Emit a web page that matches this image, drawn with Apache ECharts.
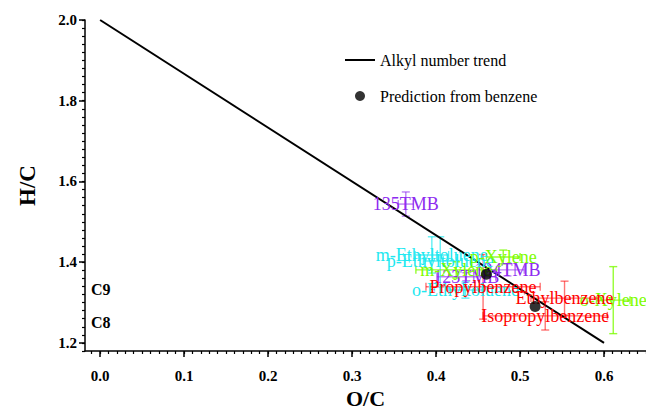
<!DOCTYPE html>
<html><head><meta charset="utf-8">
<script src="https://cdn.jsdelivr.net/npm/echarts@6/dist/echarts.min.js"></script>
<style>html,body{margin:0;padding:0;background:#fff}#c{width:646px;height:410px}</style>
</head><body><div id="c"></div>
<script>
// ---- data ----
var ocTickLabels = [0.0, 0.1, 0.2, 0.3, 0.4, 0.5, 0.6];
var hcTickLabels = [1.2, 1.4, 1.6, 1.8, 2.0];

var trendOC = [0.0, 0.6];
var trendHC = [2.0, 1.2];

var predOC = [0.460, 0.518];
var predHC = [1.370, 1.290];

var tmbNames = ['135TMB', '124TMB', '123TMB'];
var tmbOC = [0.364, 0.485, 0.436];
var tmbHC = [1.544, 1.381, 1.364];
var tmbXerr = [0.009, 0.020, 0.035];
var tmbYerr = [0.030, 0.015, 0.010];

var etNames = ['m-Ethyltoluene', 'p-Ethyltoluene', 'o-Ethyltoluene'];
var etOC = [0.395, 0.405, 0.435];
var etHC = [1.418, 1.403, 1.331];
var etXerr = [0.020, 0.020, 0.020];
var etYerr = [0.045, 0.060, 0.020];

var xylNames = ['m-Xylene', 'p-Xylene', 'o-Xylene'];
var xylOC = [0.424, 0.480, 0.611];
var xylHC = [1.381, 1.413, 1.306];
var xylXerr = [0.048, 0.020, 0.020];
var xylYerr = [0.020, 0.017, 0.083];

var benzNames = ['Propylbenzene', 'Ethylbenzene', 'Isopropylbenzene'];
var benzOC = [0.456, 0.553, 0.530];
var benzHC = [1.339, 1.311, 1.267];
var benzXerr = [0.068, 0.040, 0.074];
var benzYerr = [0.080, 0.042, 0.035];

var carbonNames = ['C9', 'C8'];
var carbonOC = [-0.011, -0.011];
var carbonHC = [1.333, 1.250];

// ---- build ----
var groups = [
  {names: tmbNames, oc: tmbOC, hc: tmbHC, xe: tmbXerr, ye: tmbYerr, color: '#8e2bf0', bar: 'rgba(142,43,240,0.6)'},
  {names: etNames, oc: etOC, hc: etHC, xe: etXerr, ye: etYerr, color: '#1ee8f0', bar: 'rgba(30,232,240,0.7)'},
  {names: xylNames, oc: xylOC, hc: xylHC, xe: xylXerr, ye: xylYerr, color: '#7cfc00', bar: 'rgba(124,252,0,0.8)'},
  {names: benzNames, oc: benzOC, hc: benzHC, xe: benzXerr, ye: benzYerr, color: '#ff0000', bar: 'rgba(255,0,0,0.55)'}
];

var minorX = [], minorY = [];
for (var i = -1; i <= 65; i++) minorX.push(+(i * 0.01).toFixed(2));
for (var j = 59; j <= 100; j++) minorY.push(+(j * 0.02).toFixed(2));
minorX = minorX.filter(function (v) { return v >= -0.018 && v <= 0.65; });

function errSeries(g) {
  var data = g.oc.map(function (v, k) { return [v, g.hc[k], g.xe[k], g.ye[k]]; });
  return {
    type: 'custom', z: 2, silent: true,
    data: data,
    encode: {x: 0, y: 1},
    renderItem: function (params, api) {
      var x = api.value(0), y = api.value(1), xe = api.value(2), ye = api.value(3);
      var c = api.coord([x, y]);
      var l = api.coord([x - xe, y]), r = api.coord([x + xe, y]);
      var t = api.coord([x, y + ye]), b = api.coord([x, y - ye]);
      var cap = 4;
      var st = {stroke: g.bar, lineWidth: 1.4};
      return {type: 'group', children: [
        {type: 'line', shape: {x1: l[0], y1: c[1], x2: r[0], y2: c[1]}, style: st},
        {type: 'line', shape: {x1: l[0], y1: c[1] - cap, x2: l[0], y2: c[1] + cap}, style: st},
        {type: 'line', shape: {x1: r[0], y1: c[1] - cap, x2: r[0], y2: c[1] + cap}, style: st},
        {type: 'line', shape: {x1: c[0], y1: t[1], x2: c[0], y2: b[1]}, style: st},
        {type: 'line', shape: {x1: c[0] - cap, y1: t[1], x2: c[0] + cap, y2: t[1]}, style: st},
        {type: 'line', shape: {x1: c[0] - cap, y1: b[1], x2: c[0] + cap, y2: b[1]}, style: st}
      ]};
    }
  };
}

var serif = 'Liberation Serif';

function labelSeries(names, oc, hc, color, size, weight, align) {
  var data = oc.map(function (v, k) { return [v, hc[k], k]; });
  return {
    type: 'custom', z: 4, silent: true,
    data: data,
    encode: {x: 0, y: 1},
    renderItem: function (params, api) {
      var c = api.coord([api.value(0), api.value(1)]);
      return {type: 'text', x: c[0], y: c[1], style: {
        text: names[api.value(2)], fill: color,
        fontFamily: serif, fontSize: size, fontWeight: weight,
        align: align, verticalAlign: 'middle'
      }};
    }
  };
}

var series = [];
groups.forEach(function (g) { series.push(errSeries(g)); });
series.push({
  name: 'Alkyl number trend', type: 'line', z: 3, symbol: 'none',
  data: trendOC.map(function (v, k) { return [v, trendHC[k]]; }),
  lineStyle: {color: '#000', width: 2}, itemStyle: {color: '#000'}
});
groups.forEach(function (g) {
  series.push(labelSeries(g.names, g.oc, g.hc, g.color, 18, 'normal', 'center'));
});
series.push({
  name: 'Prediction from benzene', type: 'scatter', z: 5, symbol: 'circle', symbolSize: 11,
  data: predOC.map(function (v, k) { return [v, predHC[k]]; }),
  itemStyle: {color: '#000'}
});
series.push(labelSeries(carbonNames, carbonOC, carbonHC, '#000', 16, 'bold', 'left'));

var axisFont = {fontFamily: serif, fontWeight: 'bold', fontSize: 15, color: '#000'};

var option = {
  animation: false,
  backgroundColor: '#fff',
  grid: {left: 85, right: 0, top: 20, bottom: 59, containLabel: false, outerBoundsMode: 'none'},
  legend: {
    orient: 'vertical', left: 340, top: 47, itemWidth: 30, itemHeight: 10, itemGap: 20,
    textStyle: {fontFamily: serif, fontSize: 16, color: '#000'},
    data: [
      {name: 'Alkyl number trend', icon: 'path://M0 0 L30 0 L30 2 L0 2 Z', itemStyle: {color: '#000'}},
      {name: 'Prediction from benzene', icon: 'circle', itemStyle: {color: '#000'}}
    ]
  },
  xAxis: [{
    type: 'value', min: -0.018, max: 0.65, position: 'bottom',
    name: 'O/C', nameLocation: 'middle', nameGap: 35,
    nameTextStyle: {fontFamily: serif, fontWeight: 'bold', fontSize: 22, color: '#000'},
    axisLine: {show: true, onZero: false, lineStyle: {color: '#000', width: 1.5}},
    axisTick: {show: true, customValues: ocTickLabels, length: 6, lineStyle: {color: '#000', width: 1.5}},
    axisLabel: Object.assign({customValues: ocTickLabels, margin: 17, formatter: function (v) { return v.toFixed(1); }}, axisFont),
    splitLine: {show: false}
  }, {
    type: 'value', min: -0.018, max: 0.65, position: 'bottom', offset: 0,
    axisLine: {show: false, onZero: false},
    axisTick: {show: true, customValues: minorX, length: 3, lineStyle: {color: '#000', width: 1.2}},
    axisLabel: {show: false},
    splitLine: {show: false}
  }],
  yAxis: [{
    type: 'value', min: 1.18, max: 2.0, position: 'left',
    name: 'H/C', nameLocation: 'middle', nameGap: 46, nameRotate: 90,
    nameTextStyle: {fontFamily: serif, fontWeight: 'bold', fontSize: 23, color: '#000'},
    axisLine: {show: true, onZero: false, lineStyle: {color: '#000', width: 1.5}},
    axisTick: {show: true, customValues: hcTickLabels, length: 6, lineStyle: {color: '#000', width: 1.5}},
    axisLabel: Object.assign({customValues: hcTickLabels, margin: 8, formatter: function (v) { return v.toFixed(1); }}, axisFont),
    splitLine: {show: false}
  }, {
    type: 'value', min: 1.18, max: 2.0, position: 'left', offset: 0,
    axisLine: {show: false, onZero: false},
    axisTick: {show: true, customValues: minorY, length: 3, lineStyle: {color: '#000', width: 1.2}},
    axisLabel: {show: false},
    splitLine: {show: false}
  }],
  series: series
};

var chart = echarts.init(document.getElementById('c'), null, {renderer: 'svg'});
chart.setOption(option);
</script>
</body></html>
